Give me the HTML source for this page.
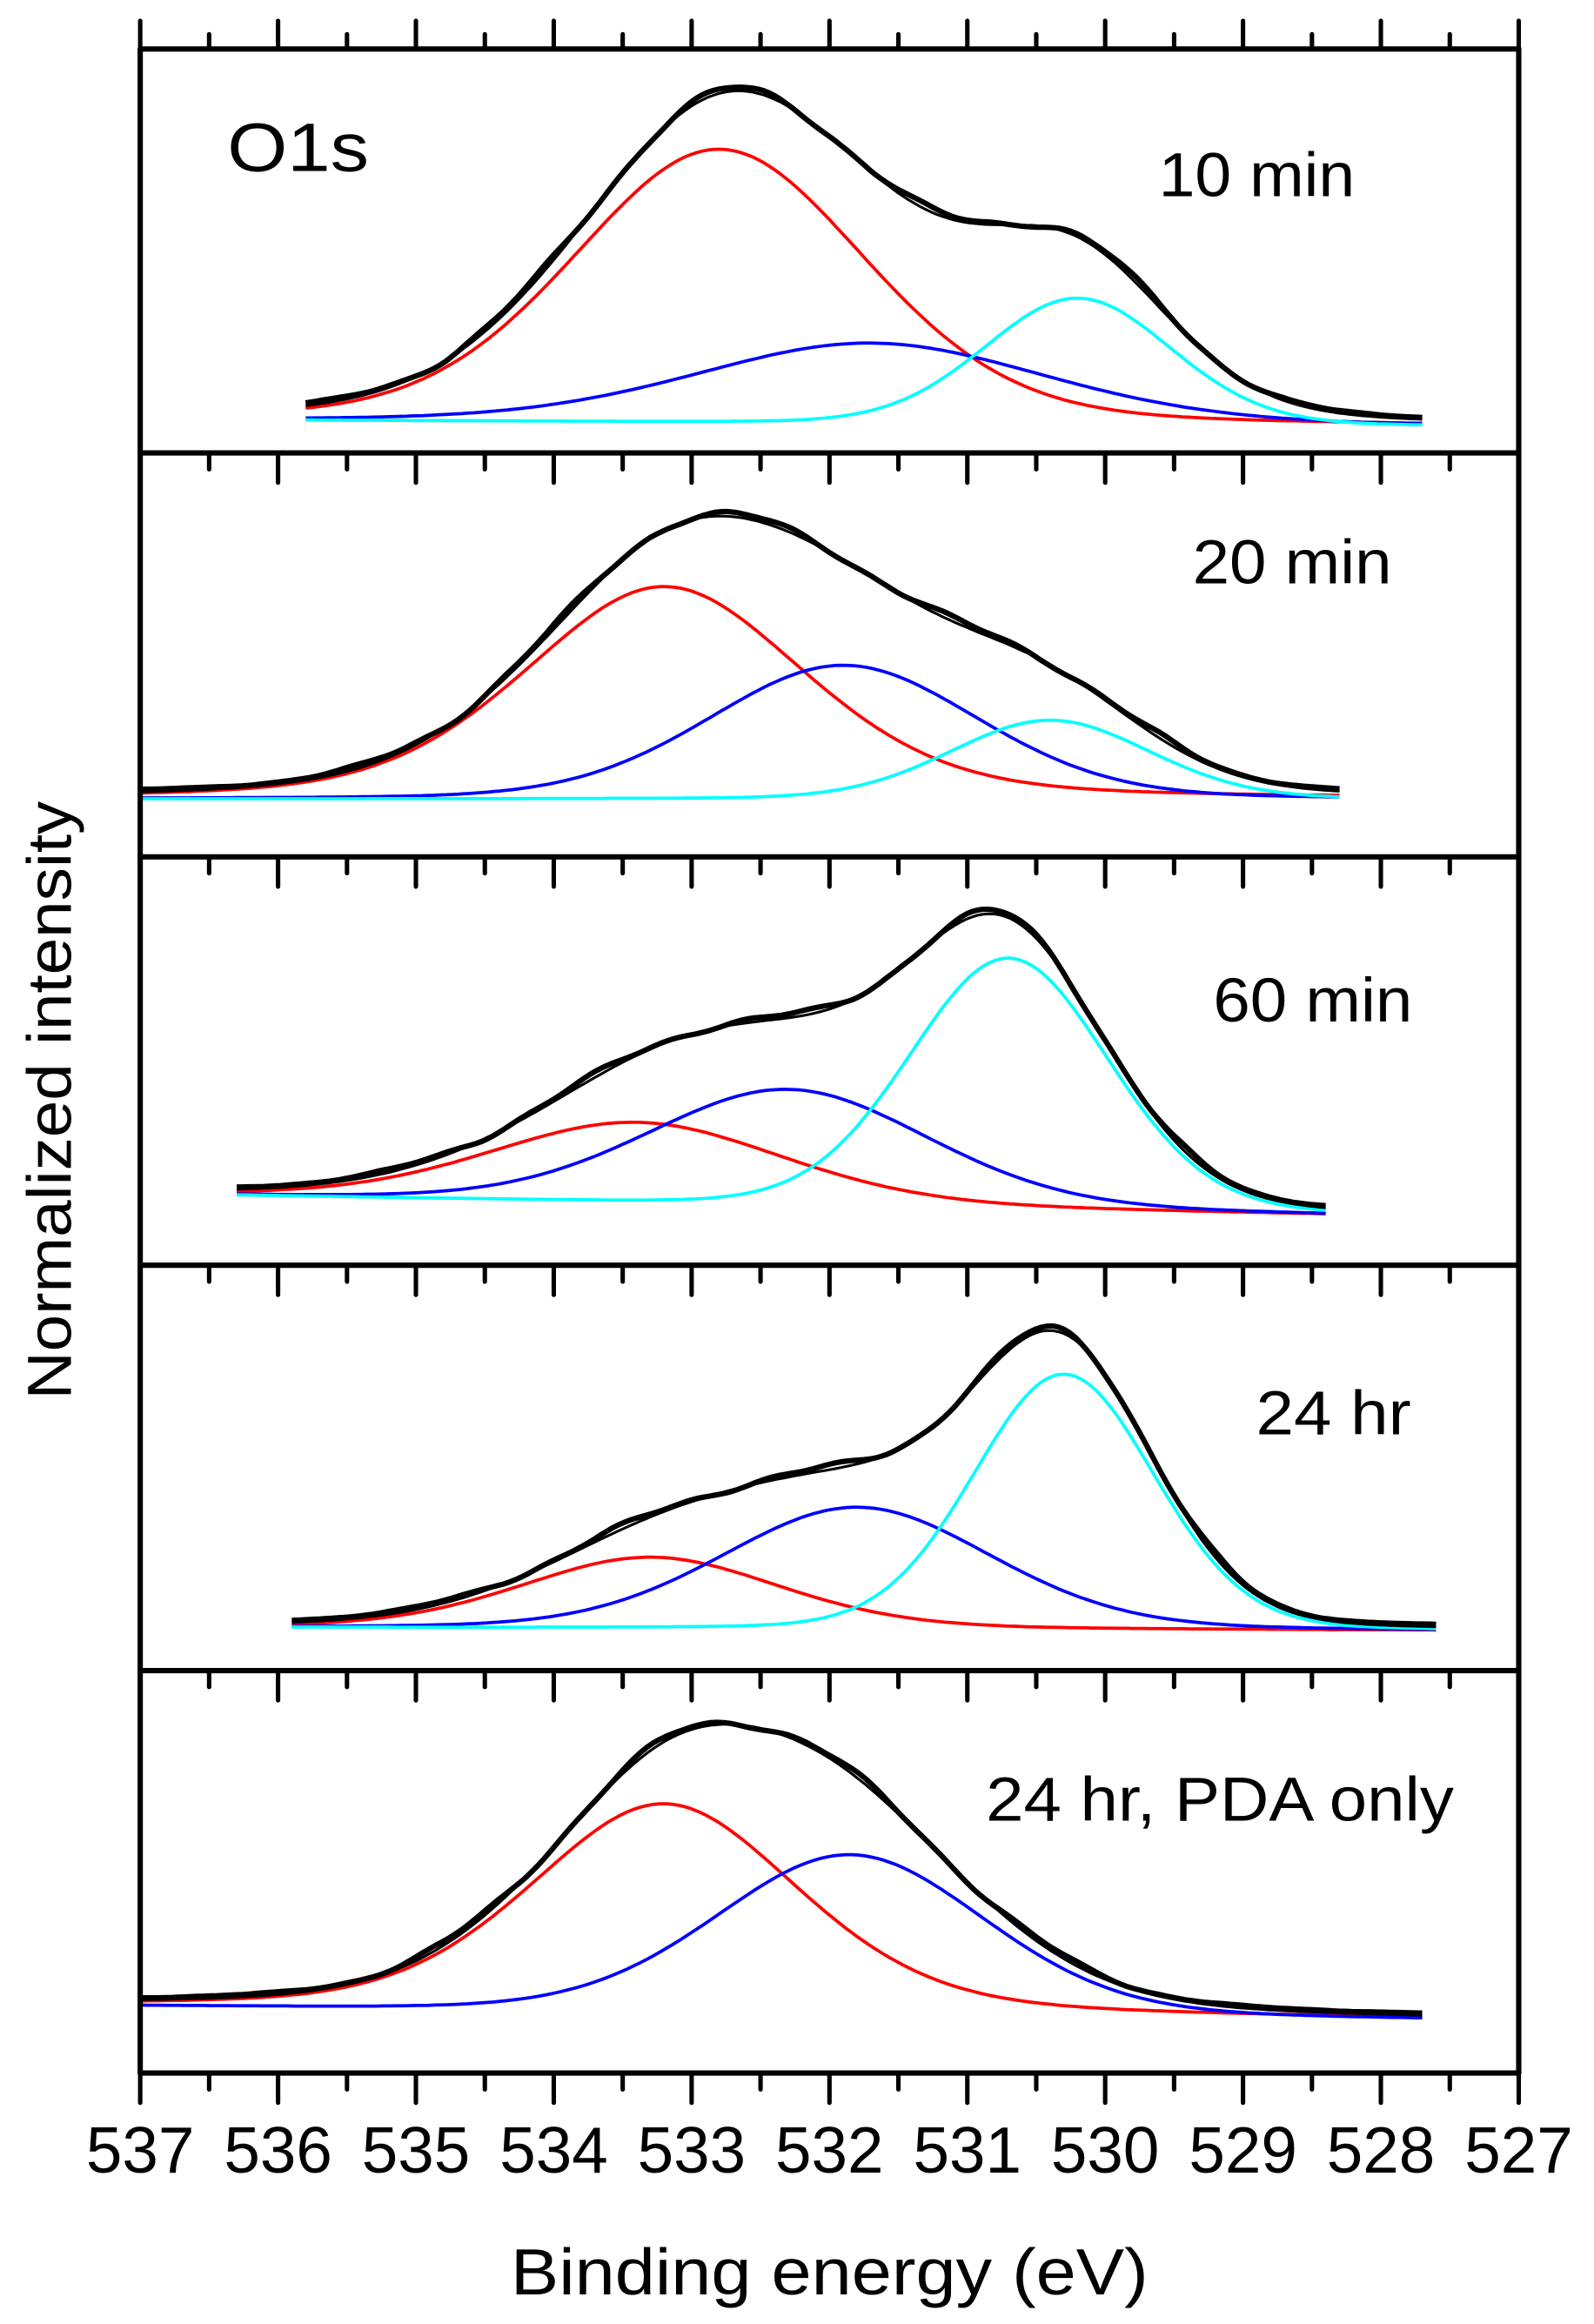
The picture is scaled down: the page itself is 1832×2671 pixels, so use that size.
<!DOCTYPE html>
<html><head><meta charset="utf-8"><style>
html,body{margin:0;padding:0;background:#fff;}
svg{display:block;}
text{font-family:"Liberation Sans",Arial,sans-serif;fill:#000;}
</style></head><body>
<svg id="s" width="1832" height="2671" viewBox="0 0 1080 1565" preserveAspectRatio="none" xmlns="http://www.w3.org/2000/svg">
<rect width="1080" height="1565" fill="#fff"/>
<g id="curves"></g>
<g id="axes" stroke="#000" stroke-width="3.6" fill="none" stroke-linecap="round"></g>
<g font-size="44" text-anchor="middle">
<text x="95" y="1463">537</text><text x="188.4" y="1463">536</text><text x="281.8" y="1463">535</text><text x="375.2" y="1463">534</text><text x="468.6" y="1463">533</text><text x="562" y="1463">532</text><text x="655.4" y="1463">531</text><text x="748.8" y="1463">530</text><text x="842.2" y="1463">529</text><text x="935.6" y="1463">528</text><text x="1029" y="1463">527</text>
</g>
<text x="562" y="1545" font-size="44" text-anchor="middle" textLength="432" lengthAdjust="spacingAndGlyphs">Binding energy (eV)</text>
<text transform="translate(48,741) rotate(-90)" font-size="42" text-anchor="middle" textLength="403" lengthAdjust="spacingAndGlyphs">Normalized intensity</text>
<text x="154" y="115" font-size="46" textLength="96" lengthAdjust="spacingAndGlyphs">O1s</text>
<text x="785" y="132" font-size="42" textLength="133" lengthAdjust="spacingAndGlyphs">10 min</text>
<text x="808" y="393" font-size="42" textLength="135" lengthAdjust="spacingAndGlyphs">20 min</text>
<text x="822" y="688" font-size="42" textLength="135" lengthAdjust="spacingAndGlyphs">60 min</text>
<text x="851" y="966" font-size="42" textLength="105" lengthAdjust="spacingAndGlyphs">24 hr</text>
<text x="668" y="1226" font-size="42" textLength="317" lengthAdjust="spacingAndGlyphs">24 hr, PDA only</text>
</svg>
<script>
(function(){
var NS="http://www.w3.org/2000/svg";
function X(E){return 95+(537-E)*93.4;}
var ax=document.getElementById("axes");
function line(x1,y1,x2,y2,w){var l=document.createElementNS(NS,"line");l.setAttribute("x1",x1);l.setAttribute("y1",y1);l.setAttribute("x2",x2);l.setAttribute("y2",y2);if(w)l.setAttribute("stroke-width",w);ax.appendChild(l);}
var seps=[33,305,577,852,1125,1396];
line(95,33,95,1396);line(1029,33,1029,1396);
seps.forEach(function(y){line(95,y,1029,y);});
for(var i=0;i<=20;i++){var E=537-i*0.5,x=X(E),maj=(i%2==0);
 line(x,33,x,maj?14:23,3);
 [305,577,852,1125].forEach(function(y){line(x,y,x,y+(maj?20:11),3);});
 line(x,1396,x,maj?1416:1407,3);
}
function pv(E,c,h,w,m){var d=(E-c)/w;return h*((1-m)*Math.exp(-4*Math.LN2*d*d)+m/(1+4*d*d));}
var panels=[
 {e0:535.8,e1:527.7,b0:283,b1:287,seed:1,pk:[[532.8,184,2.5,0.2,"#ff0000"],[531.7,54,3.0,0.2,"#0000ff"],[530.2,85,1.6,0.1,"#00ffff"]]},
 {e0:537,e1:528.3,b0:538,b1:538,seed:2,pk:[[533.2,143,2.4,0.3,"#ff0000"],[531.9,90,2.3,0.15,"#0000ff"],[530.4,53,1.7,0.1,"#00ffff"]]},
 {e0:536.3,e1:528.4,b0:805,b1:818,seed:3,pk:[[533.4,54,2.5,0.2,"#ff0000"],[532.3,78,2.4,0.15,"#0000ff"],[530.7,169,1.7,0.1,"#00ffff"]]},
 {e0:535.9,e1:527.6,b0:1096,b1:1098,seed:4,pk:[[533.3,48,2.2,0.2,"#ff0000"],[531.8,82,2.3,0.15,"#0000ff"],[530.3,172,1.55,0.1,"#00ffff"]]},
 {e0:537,e1:527.7,b0:1351,b1:1360,seed:5,pk:[[533.2,140,2.3,0.3,"#ff0000"],[531.85,107,2.3,0.15,"#0000ff"]]}
];
var g=document.getElementById("curves");
function path(d,col,w){var p=document.createElementNS(NS,"path");p.setAttribute("d",d);p.setAttribute("fill","none");p.setAttribute("stroke",col);p.setAttribute("stroke-width",w);p.setAttribute("stroke-linejoin","round");g.appendChild(p);}
panels.forEach(function(P){
 var N=200,pts=[];
 for(var k=0;k<=N;k++){var E=P.e0+(P.e1-P.e0)*k/N;pts.push(E);}
 function base(E){return P.b0+(P.b1-P.b0)*(P.e0-E)/(P.e0-P.e1);}
 var sum=pts.map(function(){return 0;});
 P.pk.forEach(function(q){
  var d="";
  pts.forEach(function(E,k){var v=pv(E,q[0],q[1],q[2],q[3]);sum[k]+=v;d+=(k?"L":"M")+X(E).toFixed(1)+" "+(base(E)-v).toFixed(1);});
  path(d,q[4],2.2);
 });
 var d1="",d2="";
 pts.forEach(function(E,k){var y=base(E)-sum[k];
  var n=1.8*Math.sin(E*4.3+P.seed)+0.8*Math.sin(E*11.7+P.seed*2);
  d1+=(k?"L":"M")+X(E).toFixed(1)+" "+y.toFixed(1);
  d2+=(k?"L":"M")+X(E).toFixed(1)+" "+(y-1.5+n*Math.min(1,sum[k]/40)).toFixed(1);});
 path(d1,"#000",1.8);
 path(d2,"#000",3.6);
});
})();
</script>
</body></html>
